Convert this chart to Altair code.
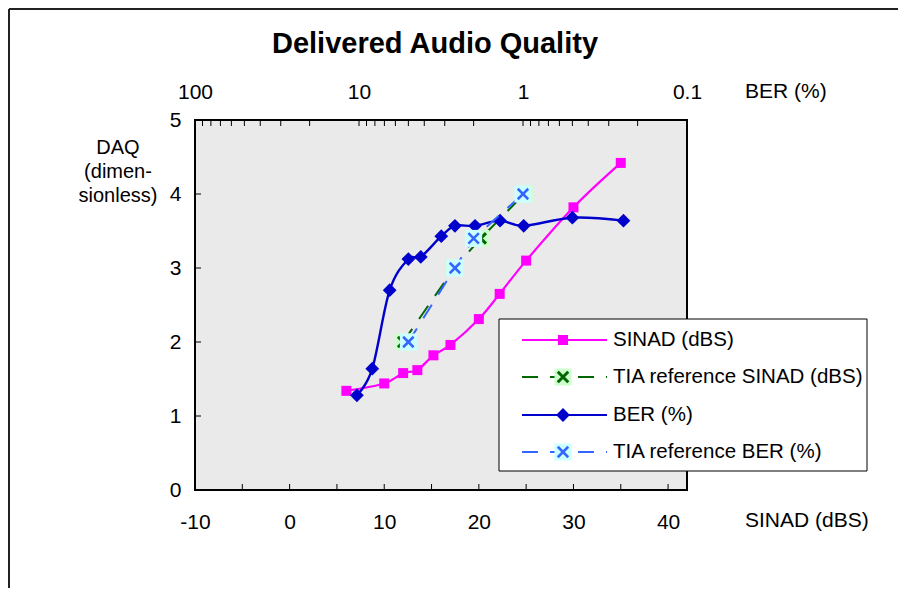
import altair as alt
import pandas as pd

# ---------------- data ----------------
series_names = ["SINAD (dBS)", "TIA reference SINAD (dBS)", "BER (%)", "TIA reference BER (%)"]

sinad_x = [6, 10, 12, 13.5, 15.2, 17, 20, 22.2, 25, 30, 35]
sinad_daq = [1.34, 1.44, 1.58, 1.62, 1.82, 1.96, 2.31, 2.65, 3.10, 3.82, 4.42]

tia_sinad_x = [12, 17.4, 20.2, 24.8]
tia_sinad_daq = [2.0, 3.0, 3.4, 4.0]

ber_x = [10.3, 8.3, 6.5, 5.0, 4.2, 3.15, 2.6, 1.96, 1.38, 0.99, 0.50, 0.244]
ber_daq = [1.28, 1.64, 2.70, 3.12, 3.15, 3.43, 3.57, 3.57, 3.64, 3.57, 3.68, 3.64]

tia_ber_x = [5.0, 2.6, 2.0, 1.0]
tia_ber_daq = [2.0, 3.0, 3.4, 4.0]

sinad_tick_labels = [-10, 0, 10, 20, 30, 40]
sinad_minor_ticks = [-5, 0, 5, 10, 15, 20, 25, 30, 35, 40]
ber_tick_labels = [100, 10, 1, 0.1]
ber_minor_ticks = [90, 80, 70, 60, 50, 40, 30, 20, 10, 9, 8, 7, 6, 5, 4, 3, 2, 1,
                   0.9, 0.8, 0.7, 0.6, 0.5, 0.4, 0.3, 0.2]
daq_ticks = [0, 1, 2, 3, 4, 5]
daq_minor_ticks = [1, 2, 3, 4]

# ---------------- styles ----------------
FONT = "Liberation Sans"
W, H = 492, 370
C_SINAD = "#FF00FF"
C_TIA_S = "#006600"
C_TIA_S_BOX = "#CCFFCC"
C_BER = "#0000CC"
C_TIA_B = "#3366FF"
C_TIA_B_BOX = "#CCFFFF"
XPATH = "M-1,-1L1,1M-1,1L1,-1"
DASH = [16, 12]

sx = alt.Scale(domain=[-10, 42], nice=False, zero=False)
bx = alt.Scale(type="log", domain=[0.1, 100], reverse=True, nice=False)
sy = alt.Scale(domain=[0, 5], nice=False, zero=False)

x_axis = alt.Axis(orient="bottom", values=sinad_tick_labels, domain=False, ticks=False, tickSize=0,
                  grid=False, labelFontSize=21, labelPadding=21, labelColor="black",
                  labelFont=FONT, title=None, labelFlush=False,
                  labelExpr="datum.value < 0 ? '-' + toString(-datum.value) : toString(datum.value)")
b_axis = alt.Axis(orient="top", values=ber_tick_labels, format="~g", domain=False, ticks=False,
                  tickSize=0, grid=False, labelFontSize=21, labelPadding=18, labelColor="black",
                  labelFont=FONT, title=None, labelFlush=False)
y_axis = alt.Axis(values=daq_ticks, domain=False, ticks=False, tickSize=0, grid=False,
                  labelFontSize=21, labelPadding=14, labelColor="black", labelFont=FONT,
                  title=None, labelFlush=False)


def X(field):
    return alt.X(f"{field}:Q", scale=sx, axis=x_axis)


def XB(field):
    return alt.X(f"{field}:Q", scale=bx, axis=b_axis)


def Y(field):
    return alt.Y(f"{field}:Q", scale=sy, axis=y_axis)


df_sinad = pd.DataFrame({"x": sinad_x, "y": sinad_daq})
df_tia_s = pd.DataFrame({"x": tia_sinad_x, "y": tia_sinad_daq})
df_ber = pd.DataFrame({"x": ber_x, "y": ber_daq})
df_tia_b = pd.DataFrame({"x": tia_ber_x, "y": tia_ber_daq})

# ---------------- bottom (SINAD) group ----------------
s_ticks = alt.Chart(pd.DataFrame({"t": sinad_minor_ticks})).mark_rule(color="black", strokeWidth=1).encode(
    x=X("t"), y=alt.value(H), y2=alt.value(H - 6))
y_ticks = alt.Chart(pd.DataFrame({"t": daq_minor_ticks})).mark_rule(color="black", strokeWidth=1).encode(
    y=Y("t"), x=alt.value(0), x2=alt.value(6))

sinad_line = alt.Chart(df_sinad).mark_line(color=C_SINAD, strokeWidth=2.2, interpolate="cardinal").encode(
    x=X("x"), y=Y("y"))
sinad_pts = alt.Chart(df_sinad).mark_point(shape="square", filled=True, color=C_SINAD, size=100, opacity=1).encode(
    x=X("x"), y=Y("y"))

tia_s_line = alt.Chart(df_tia_s).mark_line(color=C_TIA_S, strokeWidth=2, strokeDash=DASH).encode(
    x=X("x"), y=Y("y"))
tia_s_box = alt.Chart(df_tia_s).mark_point(shape="square", filled=True, color=C_TIA_S_BOX, size=289, opacity=1).encode(
    x=X("x"), y=Y("y"))
tia_s_x = alt.Chart(df_tia_s).mark_point(shape=XPATH, filled=False, color=C_TIA_S, size=110, strokeWidth=3, opacity=1).encode(
    x=X("x"), y=Y("y"))

bottom = alt.layer(s_ticks, y_ticks, sinad_line, sinad_pts, tia_s_line, tia_s_box, tia_s_x)

# ---------------- top (BER) group ----------------
b_ticks = alt.Chart(pd.DataFrame({"t": ber_minor_ticks})).mark_rule(color="black", strokeWidth=1).encode(
    x=XB("t"), y=alt.value(0), y2=alt.value(6))

ber_line = alt.Chart(df_ber).mark_line(color=C_BER, strokeWidth=2.4, interpolate="cardinal").encode(
    x=XB("x"), y=Y("y"))
ber_pts = alt.Chart(df_ber).mark_point(shape="diamond", filled=True, color=C_BER, size=190, opacity=1).encode(
    x=XB("x"), y=Y("y"))

tia_b_line = alt.Chart(df_tia_b).mark_line(color=C_TIA_B, strokeWidth=2, strokeDash=DASH).encode(
    x=XB("x"), y=Y("y"))
tia_b_box = alt.Chart(df_tia_b).mark_point(shape="square", filled=True, color=C_TIA_B_BOX, size=289, opacity=1).encode(
    x=XB("x"), y=Y("y"))
tia_b_x = alt.Chart(df_tia_b).mark_point(shape=XPATH, filled=False, color=C_TIA_B, size=110, strokeWidth=2.5, opacity=1).encode(
    x=XB("x"), y=Y("y"))

top = alt.layer(b_ticks, ber_line, ber_pts, tia_b_line, tia_b_box, tia_b_x)

# ---------------- decorations: texts, legend, outer frame ----------------
one = pd.DataFrame({"a": [0]})


def txt(text, x, y, size=21, weight="normal", align="left", baseline="middle", lh=None):
    kw = dict(font=FONT, fontSize=size, fontWeight=weight, align=align, baseline=baseline, color="black")
    if lh is not None:
        kw["lineHeight"] = lh
    return alt.Chart(one).mark_text(**kw).encode(x=alt.value(x), y=alt.value(y), text=alt.value(text))


deco = [
    alt.Chart(one).mark_rule(color="#222222", strokeWidth=2).encode(
        x=alt.value(-186), y=alt.value(-111), y2=alt.value(H + 120)),
    alt.Chart(one).mark_rule(color="#222222", strokeWidth=2).encode(
        x=alt.value(-186), x2=alt.value(W + 230), y=alt.value(-111)),
    txt("Delivered Audio Quality", 240, -67, size=29, weight="bold", align="center", baseline="alphabetic"),
    txt("SINAD (dBS)", 550, 401),
    txt("BER (%)", 550, -28),
    txt(["DAQ", "(dimen-", "sionless)"], -77, 28, size=20, align="center", lh=24),
]

# legend (manual, to reproduce line + marker + highlight box symbols)
lg_box = alt.Chart(one).mark_rect(fill="white", stroke="black", strokeWidth=1).encode(
    x=alt.value(304), x2=alt.value(672), y=alt.value(199), y2=alt.value(351))
legend = [lg_box]
rows_y = [220, 257, 295, 332]
line_x0, line_x1, sym_x, text_x = 327, 412, 368, 418
styles = [
    dict(color=C_SINAD, dash=None, box=None, shape="square", size=100, filled=True, sw=1),
    dict(color=C_TIA_S, dash=DASH, box=C_TIA_S_BOX, shape=XPATH, size=110, filled=False, sw=3),
    dict(color=C_BER, dash=None, box=None, shape="diamond", size=190, filled=True, sw=1),
    dict(color=C_TIA_B, dash=DASH, box=C_TIA_B_BOX, shape=XPATH, size=110, filled=False, sw=2.5),
]
for name, ry, st in zip(series_names, rows_y, styles):
    rule_kw = dict(color=st["color"], strokeWidth=2)
    if st["dash"]:
        rule_kw["strokeDash"] = st["dash"]
    legend.append(alt.Chart(one).mark_rule(**rule_kw).encode(
        x=alt.value(line_x0), x2=alt.value(line_x1), y=alt.value(ry)))
    if st["box"]:
        legend.append(alt.Chart(one).mark_point(shape="square", filled=True, color=st["box"], size=289, opacity=1).encode(
            x=alt.value(sym_x), y=alt.value(ry)))
    legend.append(alt.Chart(one).mark_point(shape=st["shape"], filled=st["filled"], color=st["color"],
                                            size=st["size"], strokeWidth=st["sw"], opacity=1).encode(
        x=alt.value(sym_x), y=alt.value(ry)))
    legend.append(txt(name, text_x, ry, size=20.5))

chart = alt.layer(bottom, top, *deco, *legend).resolve_scale(x="independent").properties(
    width=W, height=H,
    autosize=alt.AutoSizeParams(type="none"),
    padding={"left": 187, "top": 112, "right": 211, "bottom": 98},
    background="white",
).configure_view(stroke="black", strokeWidth=2, fill="#EAEAEA")

chart.save("out.html", embed_options={"renderer": "svg", "actions": False})
